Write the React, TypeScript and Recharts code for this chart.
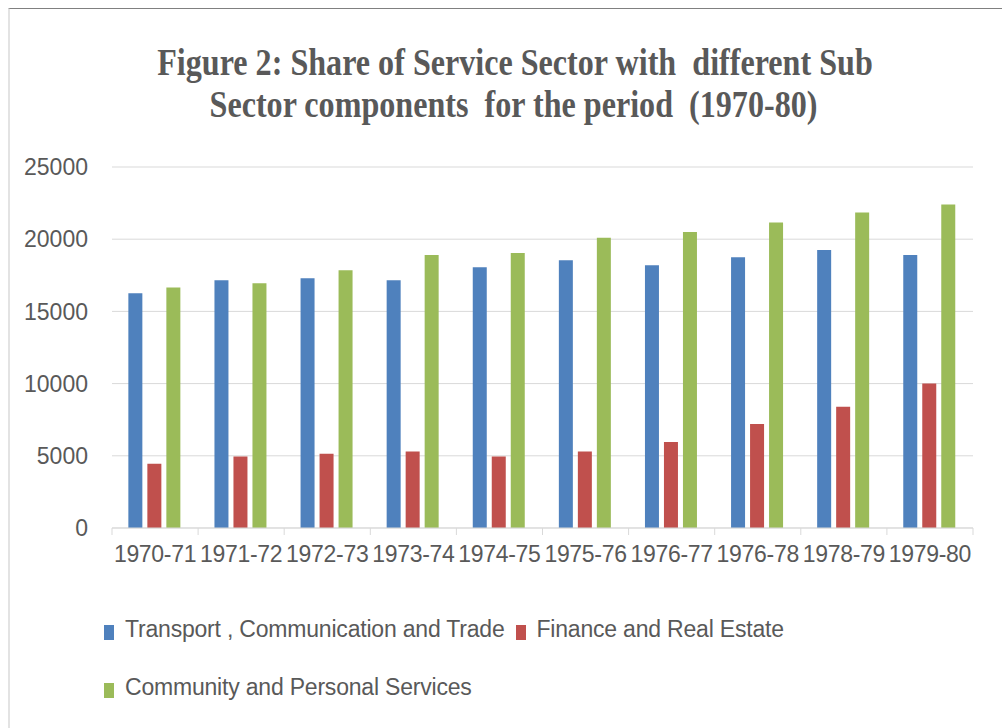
import React from "react";
import { BarChart, Bar, XAxis, YAxis, CartesianGrid } from "recharts";

const categories = ["1970-71", "1971-72", "1972-73", "1973-74", "1974-75", "1975-76", "1976-77", "1976-78", "1978-79", "1979-80"];
const transport = [16250, 17150, 17300, 17150, 18050, 18550, 18200, 18750, 19250, 18900];
const finance = [4450, 4950, 5150, 5300, 4950, 5300, 5950, 7200, 8400, 10000];
const community = [16650, 16950, 17850, 18900, 19050, 20100, 20500, 21150, 21850, 22400];
const yTicks = [0, 5000, 10000, 15000, 20000, 25000];

const seriesNames = ["Transport , Communication and Trade", "Finance and Real Estate", "Community and Personal Services"];
const seriesKeys = ["transport", "finance", "community"];
const COLORS = ["#4F81BD", "#C0504D", "#9BBB59"];

const TEXT = "#595959";
const GRID = "#D9D9D9";
const SANS = "'Liberation Sans', Arial, sans-serif";

const W = 1002;
const H = 728;
const M = { top: 167, right: 29, bottom: 160, left: 0 };
const Y_W = 112;
const BAND = (W - M.left - M.right - Y_W) / categories.length;

const data = categories.map((name, i) => ({
  name,
  transport: transport[i],
  finance: finance[i],
  community: community[i],
}));

const XTick = (props: any) => {
  const { x, y, payload, index } = props;
  const last = index === categories.length - 1;
  return (
    <g>
      <line x1={x - BAND / 2} x2={x - BAND / 2} y1={y} y2={y + 7} stroke={GRID} />
      {last && <line x1={x + BAND / 2} x2={x + BAND / 2} y1={y} y2={y + 7} stroke={GRID} />}
      <text x={x} y={y + 34} textAnchor="middle" fill={TEXT} fontSize={23} fontFamily={SANS} letterSpacing={-0.3}>
        {payload.value}
      </text>
    </g>
  );
};

const YTick = (props: any) => {
  const { x, y, payload } = props;
  return (
    <text x={x} y={y} dy="0.36em" textAnchor="end" fill={TEXT} fontSize={23} fontFamily={SANS}>
      {payload.value}
    </text>
  );
};

const titleStyle: React.CSSProperties = {
  position: "absolute",
  left: 0,
  textAlign: "center",
  whiteSpace: "pre",
  fontFamily: "'Liberation Serif', 'Times New Roman', serif",
  fontWeight: "bold",
  fontSize: 38,
  lineHeight: "44px",
  color: TEXT,
  transform: "scaleX(0.845)",
  transformOrigin: "center",
};

const LegendItem = ({ i }: { i: number }) => (
  <div style={{ display: "flex", alignItems: "flex-start", height: 28, marginRight: 11 }}>
    <div style={{ width: 10, height: 15, background: COLORS[i], marginTop: 10, marginRight: 11 }} />
    <span>{seriesNames[i]}</span>
  </div>
);

export default function App() {
  return (
    <div style={{ position: "absolute", left: 0, top: 0, width: W, height: H, background: "#fff", overflow: "hidden" }}>
      <div
        style={{
          position: "absolute",
          left: 8,
          top: 8,
          width: W - 8,
          height: H - 8,
          borderTop: "1px solid #808080",
          borderLeft: "2px solid #E3E3E3",
          boxSizing: "border-box",
        }}
      />
      <div style={{ ...titleStyle, top: 40, width: 1030 }}>Figure 2: Share of Service Sector with  different Sub</div>
      <div style={{ ...titleStyle, top: 82, width: 1027 }}>Sector components  for the period  (1970-80)</div>

      <div style={{ position: "absolute", left: 0, top: 0 }}>
        <BarChart width={W} height={H} data={data} margin={M} barCategoryGap="19%" barGap={5}>
          <CartesianGrid horizontal vertical={false} stroke={GRID} />
          <XAxis
            dataKey="name"
            height={40}
            interval={0}
            tickLine={false}
            tickSize={0}
            tickMargin={0}
            axisLine={{ stroke: GRID }}
            tick={<XTick />}
          />
          <YAxis
            width={Y_W}
            domain={[0, 25000]}
            ticks={yTicks}
            interval={0}
            axisLine={false}
            tickLine={false}
            tickSize={0}
            tickMargin={24}
            tick={<YTick />}
          />
          {seriesKeys.map((k, i) => (
            <Bar key={k} dataKey={k} name={seriesNames[i]} fill={COLORS[i]} isAnimationActive={false} />
          ))}
        </BarChart>
      </div>

      <div
        style={{
          position: "absolute",
          left: 104,
          top: 615,
          width: 720,
          display: "flex",
          flexWrap: "wrap",
          rowGap: 30,
          fontFamily: SANS,
          fontSize: 23,
          lineHeight: "28px",
          letterSpacing: "-0.2px",
          color: TEXT,
        }}
      >
        {seriesNames.map((_, i) => (
          <LegendItem key={i} i={i} />
        ))}
      </div>
    </div>
  );
}
